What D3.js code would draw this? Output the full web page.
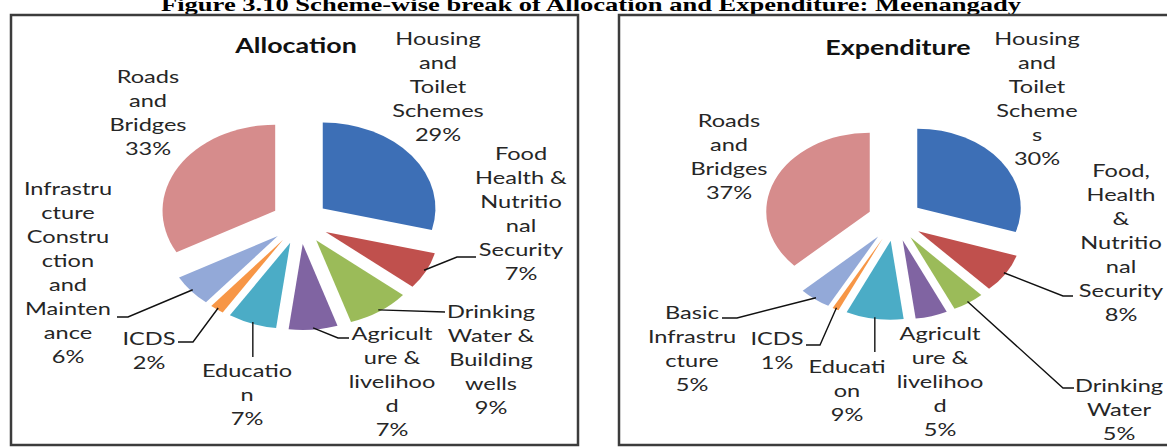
<!DOCTYPE html>
<html>
<head>
<meta charset="utf-8">
<script src="https://cdn.jsdelivr.net/npm/d3@7"></script>
<style>
  html, body { margin: 0; padding: 0; background: #fff; }
  svg { display: block; }
</style>
</head>
<body>
<svg id="chart" width="1167" height="448"></svg>
<script>
// ---- Data: scheme-wise shares (%) ----
const figureTitle = "Figure 3.10 Scheme-wise break of Allocation and Expenditure: Meenangady";

const allocCategories = [
  "Housing and Toilet Schemes", "Food Health & Nutritional Security",
  "Drinking Water & Building wells", "Agriculture & livelihood", "Education",
  "ICDS", "Infrastructure Construction and Maintenance", "Roads and Bridges"
];
const allocValues = [29, 7, 9, 7, 7, 2, 6, 33];
const allocLabelLines = [
  ["Housing", "and", "Toilet", "Schemes"],
  ["Food", "Health &", "Nutritio", "nal", "Security"],
  ["Drinking", "Water &", "Building", "wells"],
  ["Agricult", "ure &", "livelihoo", "d"],
  ["Educatio", "n"],
  ["ICDS"],
  ["Infrastru", "cture", "Constru", "ction", "and", "Mainten", "ance"],
  ["Roads", "and", "Bridges"]
];

const expCategories = [
  "Housing and Toilet Schemes", "Food, Health & Nutritional Security",
  "Drinking Water", "Agriculture & livelihood", "Education",
  "ICDS", "Basic Infrastructure", "Roads and Bridges"
];
const expValues = [30, 8, 5, 5, 9, 1, 5, 37];
const expLabelLines = [
  ["Housing", "and", "Toilet", "Scheme", "s"],
  ["Food,", "Health", "&", "Nutritio", "nal", "Security"],
  ["Drinking", "Water"],
  ["Agricult", "ure &", "livelihoo", "d"],
  ["Educati", "on"],
  ["ICDS"],
  ["Basic", "Infrastru", "cture"],
  ["Roads", "and", "Bridges"]
];

// ---- Styling & layout ----
const sliceColors = ["#3d6fb6", "#c0504d", "#9bbb59", "#8064a2", "#4bacc6", "#f79646", "#93a9d8", "#d68c8c"];
const stretch = 1.31;      // horizontal stretch of the whole figure
const lineH = 24;          // label line height
const labelFont = "Lato, 'Open Sans', sans-serif";

const panels = [
  {
    title: "Allocation", titleAt: [296, 53],
    categories: allocCategories, values: allocValues, lines: allocLabelLines,
    box: [11, 15, 567, 430],
    cx: 300, cy: 222, r: 86, explode: 22,
    labelAt: [[438, 45], [521, 160], [491, 318], [392, 340], [247, 377], [149, 345], [68, 195], [148, 83]],
    leaders: [
      null,
      [[457, 257], [476, 257]],
      [[445, 312]],
      [[338, 338], [349, 338]],
      [[null, 357]],
      [[193, 342], [178, 342]],
      [[128, 317], [117, 317]],
      null
    ]
  },
  {
    title: "Expenditure", titleAt: [898, 55],
    categories: expCategories, values: expValues, lines: expLabelLines,
    box: [619, 15, 600, 430],
    cx: 895, cy: 220, r: 79, explode: 21,
    labelAt: [[1037, 45], [1121, 177], [1119, 392], [940, 340], [847, 373], [777, 345], [692, 319], [729, 127]],
    leaders: [
      null,
      [[1063, 296], [1073, 296]],
      [[1063, 388], [1074, 388]],
      null,
      [[null, 352]],
      [[820, 345], [806, 345]],
      [[737, 318], [722, 318]],
      null
    ]
  }
];

const svg = d3.select("#chart");

// Figure caption (its top runs past the upper edge)
svg.append("text")
  .attr("x", 591).attr("y", 11)
  .attr("text-anchor", "middle")
  .attr("font-family", "'Liberation Serif', 'Times New Roman', serif")
  .attr("font-weight", "bold")
  .attr("font-size", 19)
  .attr("textLength", 860)
  .attr("lengthAdjust", "spacingAndGlyphs")
  .attr("fill", "#000")
  .text(figureTitle);

panels.forEach(p => {
  const g = svg.append("g");

  g.append("rect")
    .attr("x", p.box[0]).attr("y", p.box[1])
    .attr("width", p.box[2]).attr("height", p.box[3])
    .attr("fill", "#fff")
    .attr("stroke", "#3c3c3c")
    .attr("stroke-width", 2.5);

  // Chart title
  g.append("text")
    .attr("transform", `translate(${p.titleAt[0]},${p.titleAt[1]}) scale(${stretch},1)`)
    .attr("text-anchor", "middle")
    .attr("font-family", labelFont)
    .attr("font-weight", "bold")
    .attr("font-size", 20.5)
    .attr("fill", "#111")
    .text(p.title);

  const rows = p.values.map((v, i) => ({ name: p.categories[i], value: v }));
  const arcs = d3.pie().sort(null).startAngle(0).endAngle(2 * Math.PI).value(d => d.value)(rows);
  const arc = d3.arc().innerRadius(0).outerRadius(p.r);
  const mid = d => (d.startAngle + d.endAngle) / 2;

  // Exploded pie, stretched horizontally
  const pieG = g.append("g")
    .attr("transform", `translate(${p.cx},${p.cy}) scale(${stretch},1)`);
  pieG.selectAll("path")
    .data(arcs)
    .join("path")
    .attr("d", arc)
    .attr("transform", d => `translate(${p.explode * Math.sin(mid(d))},${-p.explode * Math.cos(mid(d))})`)
    .attr("fill", d => sliceColors[d.index]);

  // Outer rim point of an exploded slice, in page coordinates
  const rim = d => {
    const R = p.explode + p.r * 0.98;
    return [p.cx + stretch * R * Math.sin(mid(d)), p.cy - R * Math.cos(mid(d))];
  };

  // Leader lines
  arcs.forEach((d, i) => {
    const L = p.leaders[i];
    if (!L) return;
    const s = rim(d);
    const pts = [s].concat(L.map(q => [q[0] == null ? s[0] : q[0], q[1]]));
    g.append("path")
      .attr("d", d3.line()(pts))
      .attr("fill", "none")
      .attr("stroke", "#111")
      .attr("stroke-width", 1.4);
  });

  // Data labels: wrapped category name plus percentage
  arcs.forEach((d, i) => {
    const lines = p.lines[i].concat([`${d.data.value}%`]);
    const [lx, ly] = p.labelAt[i];
    lines.forEach((t, j) => {
      g.append("text")
        .attr("transform", `translate(${lx},${ly + j * lineH}) scale(${stretch},1)`)
        .attr("text-anchor", "middle")
        .attr("font-family", labelFont)
        .attr("font-size", 18)
        .attr("fill", "#262626")
        .text(t);
    });
  });
});
</script>
</body>
</html>
